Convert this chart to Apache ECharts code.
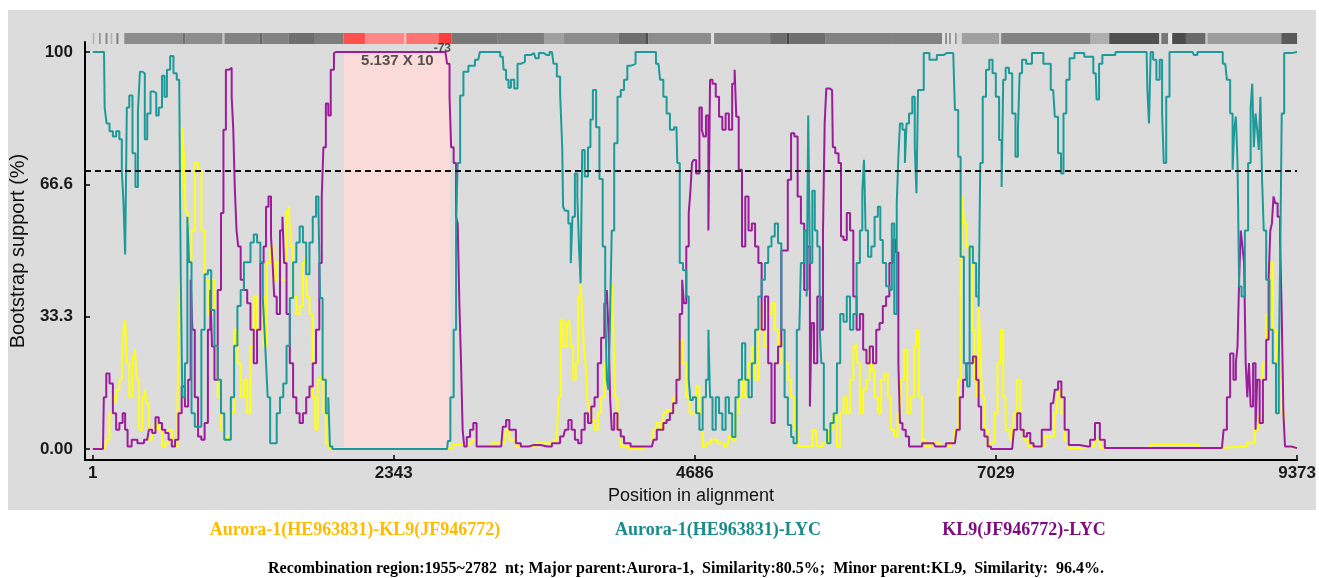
<!DOCTYPE html>
<html><head><meta charset="utf-8">
<script src="https://cdn.jsdelivr.net/npm/echarts@6/dist/echarts.min.js"></script>
<style>html,body{margin:0;padding:0;background:#fff;}#c{width:1319px;height:578px;}</style>
</head><body><div id="c"></div>
<script>
const xTicks = [1, 2343, 4686, 7029, 9373];
const yTicks = [0, 33.3, 66.6, 100];
const cutoff = 70;
const recombRegion = [1955, 2782];
const pValueText = ['5.137 X 10', '-73'];
const seriesNames = ['Aurora-1(HE963831)-KL9(JF946772)', 'Aurora-1(HE963831)-LYC', 'KL9(JF946772)-LYC'];
const footerText = 'Recombination region:1955~2782  nt; Major parent:Aurora-1,  Similarity:80.5%;  Minor parent:KL9,  Similarity:  96.4%.';

const yellowData = [[1,0],[93,0],[118,2.3],[144,9],[170,13],[182,11.5],[195,14.9],[220,17.4],[233,21.6],[246,30],[259,32.5],[272,21.6],[297,13],[322,23.3],[335,25],[348,17.4],[374,4.8],[399,13],[412,14.9],[424,11.5],[450,2.3],[476,4.8],[501,6.5],[527,4.8],[552,0.6],[578,1.4],[603,4.8],[628,2.3],[654,0.6],[667,13],[680,34],[692,55],[705,81],[718,72],[730,59.4],[756,46.8],[782,55],[807,72],[833,70.3],[858,55],[884,42.6],[909,34],[935,42.6],[960,25.8],[986,13],[1011,4.8],[1037,2.3],[1062,3.1],[1088,9],[1113,30],[1139,21.6],[1164,13],[1190,17.4],[1215,9],[1241,25.8],[1266,38.4],[1292,30],[1317,38.4],[1343,25.8],[1368,46.8],[1394,51],[1419,42.6],[1445,46.8],[1470,42.6],[1496,42.6],[1521,60],[1534,61],[1547,51],[1572,38.4],[1598,34],[1623,36],[1649,46.8],[1661,48.4],[1674,38.4],[1700,34],[1725,13],[1738,4.8],[1763,17.4],[1789,18.2],[1801,9],[1827,1.4],[1852,0.2],[2758,0.2],[2847,1],[2949,1.4],[2975,2.3],[3000,0.6],[3204,1.4],[3230,4.8],[3255,2.3],[3332,0.6],[3561,1.4],[3612,2.3],[3637,13],[3650,32.5],[3676,25.8],[3701,31.7],[3714,32.5],[3727,25.8],[3752,17.4],[3765,21.6],[3791,38.4],[3803,41.7],[3816,34],[3829,25.8],[3842,21.6],[3854,13],[3867,9.8],[3893,7.3],[3918,4.8],[3944,9],[3969,13],[3995,21.6],[4020,30],[4033,38.4],[4046,41.7],[4058,30],[4071,13],[4097,4.8],[4122,0.6],[4224,0],[4352,0.6],[4377,4.8],[4403,6.5],[4428,4.8],[4454,9],[4479,9.8],[4505,9],[4530,13],[4556,17.4],[4581,27.5],[4607,21.6],[4632,13],[4658,9],[4683,9],[4709,15.7],[4734,9],[4760,0.6],[4785,1.4],[4836,2.3],[4887,1.4],[4938,0.6],[4964,3.1],[4989,2.3],[5015,9],[5040,13],[5066,17.4],[5091,13],[5117,21.6],[5142,25.8],[5168,17.4],[5193,30],[5219,36],[5244,25.8],[5270,34],[5295,36.7],[5321,30],[5346,21.6],[5372,27],[5397,21.6],[5422,17.4],[5448,13],[5473,4.8],[5499,0.6],[5575,0.6],[5626,4.8],[5652,0.6],[5703,1.4],[5754,4.8],[5779,9],[5805,0.6],[5830,9],[5856,13],[5881,9],[5907,17.4],[5932,25.8],[5945,26.6],[5958,21.6],[5983,9],[6009,14.9],[6034,17.4],[6060,25.8],[6072,19.7],[6098,13],[6123,9],[6149,17.4],[6174,19],[6200,13],[6225,4.8],[6251,3.1],[6276,9],[6302,17.4],[6327,25],[6353,9],[6378,13],[6404,25.8],[6417,30],[6442,13],[6468,2.3],[6493,0.6],[6544,1.4],[6646,0.6],[6697,1.4],[6723,4.8],[6748,17.4],[6761,38.4],[6774,63.6],[6786,56.8],[6812,51],[6837,48.4],[6850,30],[6876,17.4],[6888,13],[6901,35.9],[6914,25.8],[6927,13],[6952,4.8],[6978,0.6],[7003,1.4],[7029,9],[7054,21.6],[7080,30],[7092,13],[7118,4.8],[7156,2.3],[7182,9],[7207,17.4],[7233,4.8],[7258,2.3],[7309,0.6],[7360,0.6],[7462,3.1],[7500,9],[7526,14.9],[7551,9],[7577,2.3],[7615,0.2],[7768,0.6],[7819,2.3],[7870,0.2],[8584,1],[8635,0.2],[8941,0.6],[9018,1.4],[9069,4.8],[9094,9],[9120,21.6],[9145,34],[9171,46.8],[9196,30],[9222,21.6],[9247,17.4],[9260,9],[9285,0.6],[9373,0.2]];

const tealData = [[1,100],[88,100],[98,86],[118,82],[144,80],[170,78.7],[195,80],[220,78],[233,70],[246,62],[259,49],[272,86],[297,89],[322,74.5],[343,66],[361,85],[374,95],[399,94.6],[412,78],[437,84.5],[463,90],[488,89.6],[501,84],[527,86],[552,94],[565,88.7],[590,95.5],[616,99],[641,94.6],[667,93],[680,92],[690,44],[705,13],[730,21.6],[743,58.5],[756,47],[782,9],[807,5.6],[833,5.6],[858,30],[884,44],[909,45],[935,35],[960,26],[986,17.4],[1011,9],[1037,2.3],[1062,2.3],[1088,13],[1113,26],[1139,36],[1164,40],[1190,47],[1215,47],[1241,52],[1266,54],[1292,52],[1317,47],[1330,38],[1343,30],[1355,21.6],[1368,13],[1394,1.4],[1419,1.4],[1445,9],[1470,13],[1496,16.5],[1521,26],[1547,38],[1572,47],[1598,52],[1623,56],[1649,52],[1674,44],[1700,52],[1725,58.5],[1751,63.6],[1763,60],[1776,38],[1802,17.4],[1827,9],[1840,13],[1853,0.6],[1878,0],[2758,0],[2771,2],[2796,13],[2822,30],[2834,57],[2847,72],[2872,89],[2898,95],[2949,96.5],[3000,98],[3026,100],[3153,100],[3191,98.8],[3204,95.5],[3230,93],[3242,91],[3268,93],[3293,90.8],[3319,97],[3344,97.5],[3383,99.2],[3434,99.7],[3459,98.4],[3485,99.7],[3536,99.2],[3574,100],[3599,97],[3625,93.8],[3650,89.6],[3658,76],[3663,61],[3689,60],[3714,56.8],[3727,46.8],[3740,58.5],[3765,69.4],[3778,63.6],[3791,51],[3803,41.7],[3816,75.3],[3842,68.6],[3867,76],[3880,83],[3905,90.4],[3931,81],[3956,68],[3982,51],[3995,36.7],[4007,17.4],[4020,14.9],[4033,34],[4046,55],[4071,77],[4097,88.7],[4122,90.4],[4148,93],[4173,96.5],[4199,97],[4250,100],[4364,100],[4403,97],[4428,93],[4454,88.7],[4479,84.5],[4505,80.4],[4543,81],[4556,72],[4581,46.8],[4607,45],[4632,38.4],[4645,17.4],[4658,12.3],[4683,13],[4709,9],[4734,4.8],[4760,13],[4785,17.4],[4798,30],[4811,13],[4836,4.8],[4862,13],[4887,9],[4913,4.8],[4938,13],[4964,9],[4989,3],[5015,13],[5040,17.4],[5066,26.6],[5091,17.4],[5117,13],[5142,21.6],[5168,30],[5193,38.4],[5219,42.6],[5244,46.8],[5270,51],[5295,53.5],[5321,56.8],[5346,51.8],[5372,30],[5397,13],[5423,6],[5448,3],[5460,1.4],[5499,30],[5524,46.8],[5550,55],[5562,38.4],[5575,84],[5588,46.8],[5613,65],[5626,55],[5652,51],[5664,30],[5677,21.6],[5703,4.8],[5728,1.4],[5754,6.5],[5779,9],[5805,21.6],[5830,34],[5856,32],[5881,38.4],[5907,30],[5932,34],[5958,46.8],[5983,55],[5996,65],[6009,72.8],[6021,55],[6047,48.4],[6072,51],[6098,58.5],[6123,61],[6136,52.6],[6162,46.8],[6187,41],[6213,40],[6225,56.8],[6251,34],[6264,62],[6276,73.6],[6289,82],[6315,80.4],[6327,72],[6340,82],[6366,84.5],[6391,88.7],[6404,76],[6417,64.4],[6429,90.4],[6455,90.4],[6480,99.7],[6544,98],[6595,99.2],[6646,99.7],[6697,99.7],[6723,85.4],[6748,73.6],[6761,48.4],[6799,21.6],[6812,15.7],[6837,51],[6863,46.8],[6888,38.4],[6901,35.9],[6914,72],[6939,88.7],[6965,95.5],[6990,98],[7016,94.6],[7041,88.7],[7067,77.8],[7080,66],[7092,93],[7118,96],[7143,94.6],[7169,84.5],[7194,73.6],[7207,80.4],[7220,94.6],[7245,98],[7284,97],[7335,99.7],[7360,99.7],[7437,97],[7475,90.4],[7500,83.7],[7526,74.5],[7546,69.4],[7564,84.5],[7590,93],[7615,98.4],[7666,99.7],[7768,98.8],[7806,94.6],[7819,88],[7845,97],[7870,99.2],[8048,100],[8202,100],[8214,90.4],[8227,82],[8240,100],[8265,98],[8291,93],[8316,98],[8329,84.5],[8342,72],[8367,88.7],[8393,100],[8559,100],[8584,99.2],[8610,100],[8775,100],[8814,97],[8839,93],[8865,84.5],[8877,70.3],[8890,80.4],[8903,83.7],[8916,72],[8928,40.9],[8954,38.4],[8979,55],[9005,72],[9018,86],[9030,92],[9043,76],[9056,84.5],[9069,80.4],[9081,75.3],[9094,88.7],[9107,67.8],[9120,55],[9145,42.6],[9171,30],[9196,21.6],[9222,9],[9239,21.6],[9247,52.6],[9260,84.5],[9285,99.7],[9373,100]];

const purpleData = [[1,0],[80,0],[93,13],[118,19],[144,16.5],[170,9],[195,4.8],[220,6.5],[246,9],[259,4.8],[284,0.6],[322,2.3],[374,1.4],[424,2.3],[450,4.8],[476,4],[501,8],[527,6.5],[552,4.8],[578,4],[603,2.3],[628,0.6],[654,2.3],[680,9],[705,15.7],[730,10.7],[756,17.4],[769,42.6],[782,30],[807,13],[833,3.1],[858,2.3],[884,6.5],[909,30],[922,40],[935,25.8],[960,17.4],[986,40],[1011,59.4],[1024,80.4],[1049,95.5],[1075,96],[1088,88.7],[1100,80.4],[1113,65],[1126,55],[1139,51],[1164,42.6],[1190,40],[1215,36.7],[1241,30],[1266,21.6],[1292,30],[1317,46.8],[1343,51],[1355,61],[1381,63.6],[1394,53.5],[1406,46.8],[1419,38.4],[1445,34],[1470,55],[1483,58.5],[1496,46.8],[1521,34],[1547,21.6],[1572,13],[1598,9],[1623,6.5],[1649,9],[1674,13],[1700,15.7],[1725,21.6],[1751,30],[1776,46.8],[1789,63.6],[1802,76],[1827,87],[1840,84],[1865,95.5],[1890,99.7],[1900,100],[2745,100],[2771,97],[2783,88.7],[2796,76],[2822,72],[2834,58.5],[2847,56.8],[2860,36.7],[2873,21.6],[2885,4.8],[2898,0.6],[2924,3],[2949,4.8],[2975,6.5],[3000,0.6],[3179,0.6],[3204,5.6],[3230,7.3],[3255,4.8],[3281,4.8],[3306,1.4],[3357,0.6],[3434,1],[3536,0.6],[3612,1.4],[3663,3.1],[3689,4.8],[3714,7.3],[3740,4.8],[3765,2.3],[3791,1.4],[3816,4.8],[3842,9],[3867,6.5],[3893,10.7],[3918,13],[3944,21.6],[3969,28],[3995,36.7],[4007,40],[4020,30],[4033,13],[4046,4.8],[4071,9],[4097,4.8],[4122,3.1],[4148,1.4],[4224,0.6],[4352,0.6],[4377,2.3],[4403,4.8],[4428,4.8],[4454,6.5],[4479,7.3],[4505,9],[4530,11.5],[4556,17.4],[4581,34],[4594,42.6],[4607,36.7],[4632,51],[4645,59.4],[4658,65],[4670,72],[4683,72.8],[4709,69.4],[4734,86],[4747,80.4],[4760,78.7],[4785,84],[4798,55],[4811,93],[4836,92],[4862,88.7],[4887,83.7],[4913,80.4],[4938,84.5],[4964,80.4],[4989,92],[5002,95.5],[5015,83.7],[5040,70.3],[5066,51],[5091,63.6],[5117,55],[5142,56.8],[5168,51],[5193,46.8],[5219,30],[5244,38.4],[5270,21.6],[5295,6.5],[5321,21.6],[5346,25.8],[5372,50],[5397,50],[5422,67.8],[5448,79.5],[5473,78.7],[5499,63.6],[5524,56.8],[5550,40],[5575,51],[5588,10.7],[5601,31.7],[5626,21.6],[5652,38.4],[5677,30],[5690,55],[5703,82],[5715,90.8],[5754,90.4],[5766,76],[5792,74.5],[5817,72],[5830,53.5],[5856,52.6],[5881,59.4],[5907,55],[5932,38.4],[5958,30],[5983,34],[6009,25],[6034,21.6],[6060,25.8],[6085,21.6],[6111,30],[6136,31.7],[6162,36],[6187,38.4],[6213,46.8],[6238,52.6],[6264,49.5],[6276,21.6],[6289,6.5],[6315,4.8],[6340,3.1],[6366,0.6],[6544,1.4],[6570,0.6],[6710,1.4],[6735,4.8],[6761,13],[6786,17.4],[6812,21.6],[6837,21.6],[6863,23.3],[6888,17.4],[6901,10.7],[6927,4.8],[6952,3.1],[6978,0.6],[7003,0],[7156,0],[7182,4.8],[7207,9],[7233,4.8],[7258,3.1],[7284,4],[7309,1.4],[7335,0.6],[7437,4.8],[7475,11.5],[7500,14.9],[7526,17],[7551,13],[7577,4.8],[7615,1],[7743,0.6],[7781,2.3],[7819,6.5],[7857,2.3],[7896,0.2],[8788,0.2],[8814,4.8],[8839,13],[8865,24],[8890,17.4],[8903,21.6],[8916,25.8],[8928,42.6],[8941,55],[8954,51],[8967,46.8],[8979,21.6],[8992,13],[9005,21.6],[9018,10.7],[9043,21.6],[9056,4.8],[9069,17.4],[9094,6.5],[9120,17.4],[9145,27.5],[9158,42.6],[9171,55],[9183,56.8],[9196,63.6],[9209,61.9],[9234,58.5],[9247,52.6],[9260,34],[9273,9],[9285,0.6],[9373,0.2]];

// sequence strip along the top: [start, end, grey level]
const stripGrey = [[1,12,175],[50,62,140],[100,115,135],[140,152,175],[185,200,125],[246,700,140],[700,720,110],[720,1011,140],[1011,1026,200],[1026,1300,130],[1300,1320,100],[1320,1523,130],[1523,1722,110],[1722,1952,125],[2793,3153,120],[3153,3512,125],[3512,3665,160],[3665,4094,140],[4094,4300,110],[4300,4323,80],[4323,4813,140],[4813,4836,225],[4836,5272,135],[5272,5400,110],[5400,5420,70],[5420,5700,110],[5700,6213,130],[6213,6611,130],[6611,6634,225],[6634,6649,140],[6649,6664,225],[6664,6680,150],[6680,6710,225],[6710,6725,150],[6725,6764,215],[6764,7054,160],[7054,7070,210],[7070,7766,130],[7766,7911,175],[7911,8301,80],[8301,8316,220],[8316,8370,120],[8370,8401,230],[8401,8508,75],[8508,8661,105],[8661,8676,200],[8676,9250,155],[9250,9373,90]];
// recombinant part of the strip: [start, end, red lightness]
const stripRed = [[1952,2120,80],[2120,2426,135],[2426,2440,190],[2440,2694,115],[2694,2793,60]];

const colors = {yellow:'#ffff14', teal:'#1e9a9a', purple:'#9c1c9c'};
const legendColors = ['#ffbb00', '#1a8b8b', '#7d0b7d'];
const legendCenters = [355, 718, 1024];

const stripData = stripGrey.map(s => ({value:[s[0], s[1]], itemStyle:{color:`rgb(${s[2]},${s[2]},${s[2]})`}}))
  .concat(stripRed.map(s => ({value:[s[0], s[1]], itemStyle:{color:`rgb(255,${s[2]},${s[2]})`}})));

const chart = echarts.init(document.getElementById('c'));
const tickFont = '"Liberation Sans Narrow","Liberation Sans",Arial,sans-serif';
const serif = '"Liberation Serif","Times New Roman",serif';

const lineSeries = (name, data, color) => ({
  type:'line', name, data, z:3, showSymbol:false, symbol:'none', step:'middle',
  lineStyle:{color, width:2}, itemStyle:{color}
});

const option = {
  animation: false,
  backgroundColor: '#ffffff',
  graphic: [
    {type:'rect', z:-100, shape:{x:8, y:10, width:1308, height:500}, style:{fill:'#dcdcdc'}},
    ...seriesNames.map((n, i) => ({type:'text', z:10, style:{text:n, x:legendCenters[i], y:530, align:'center', verticalAlign:'middle', fontFamily:serif, fontWeight:'bold', fontSize:18, fill:legendColors[i]}})),
    {type:'text', z:10, style:{text:footerText, x:686, y:569, align:'center', verticalAlign:'middle', fontFamily:serif, fontWeight:'bold', fontSize:16, fill:'#000'}}
  ],
  grid: {left:80, right:6, top:42, bottom:118},
  xAxis: {
    type:'value', min:-60, max:9373,
    name:'Position in alignment', nameLocation:'middle', nameGap:23,
    nameTextStyle:{fontSize:18, color:'#111', fontFamily:'"Liberation Sans",Arial,sans-serif'},
    axisLine:{show:true, onZero:false, lineStyle:{color:'#000', width:2}},
    axisTick:{show:true, inside:true, length:5, customValues:xTicks, lineStyle:{color:'#000', width:1.5}},
    axisLabel:{customValues:xTicks, margin:5, fontSize:17, fontWeight:'bold', color:'#1a1a1a', fontFamily:tickFont,
      formatter: v => String(v)},
    splitLine:{show:false}
  },
  yAxis: {
    type:'value', min:-2.8, max:102.5,
    name:'Bootstrap support (%)', nameLocation:'middle', nameGap:57, nameRotate:90,
    nameTextStyle:{fontSize:20, color:'#111', fontFamily:'"Liberation Sans",Arial,sans-serif'},
    axisLine:{show:true, onZero:false, lineStyle:{color:'#000', width:2}},
    axisTick:{show:true, inside:true, length:5, customValues:yTicks, lineStyle:{color:'#000', width:1.5}},
    axisLabel:{customValues:yTicks, margin:12, fontSize:17, fontWeight:'bold', color:'#1a1a1a', fontFamily:tickFont,
      formatter: v => (v === 0 ? '0.00' : String(v))},
    splitLine:{show:false}
  },
  series: [
    {
      type:'line', name:'region', data:[], z:1, silent:true,
      markArea:{silent:true, itemStyle:{color:'#fbdada'}, label:{show:false},
        data:[[{xAxis:recombRegion[0], yAxis:0}, {xAxis:recombRegion[1], yAxis:100}]]},
      markLine:{silent:true, symbol:['none','none'], label:{show:false},
        lineStyle:{color:'#111', width:2, type:[6,4]},
        data:[{yAxis:cutoff}]}
    },
    {type:'custom', name:'strip', z:1, silent:true, clip:false, data:stripData,
      renderItem:(params, api) => {
        const x0 = api.coord([api.value(0), 0])[0];
        const x1 = api.coord([api.value(1), 0])[0];
        const top = params.coordSys.y - 9;
        return {type:'rect', shape:{x:x0, y:top, width:Math.max(1, x1 - x0), height:11}, style:{fill:api.visual('color')}};
      }},
    lineSeries(seriesNames[0], yellowData, colors.yellow),
    lineSeries(seriesNames[2], purpleData, colors.purple),
    lineSeries(seriesNames[1], tealData, colors.teal),
    {type:'scatter', name:'p-value', z:5, silent:true, symbolSize:0,
      data:[[(recombRegion[0] + recombRegion[1]) / 2, 100]],
      label:{show:true, position:[9, -9], align:'center', verticalAlign:'top',
        formatter: () => '{base|' + pValueText[0] + '}{sup|' + pValueText[1] + '}',
        rich:{
          base:{fontSize:15, fontWeight:'bold', color:'#2a2a2a', fontFamily:tickFont, lineHeight:25, verticalAlign:'bottom'},
          sup:{fontSize:12, fontWeight:'bold', color:'#2a2a2a', fontFamily:tickFont, lineHeight:25, verticalAlign:'top'}
        }}}
  ]
};
chart.setOption(option);
</script>
</body></html>
